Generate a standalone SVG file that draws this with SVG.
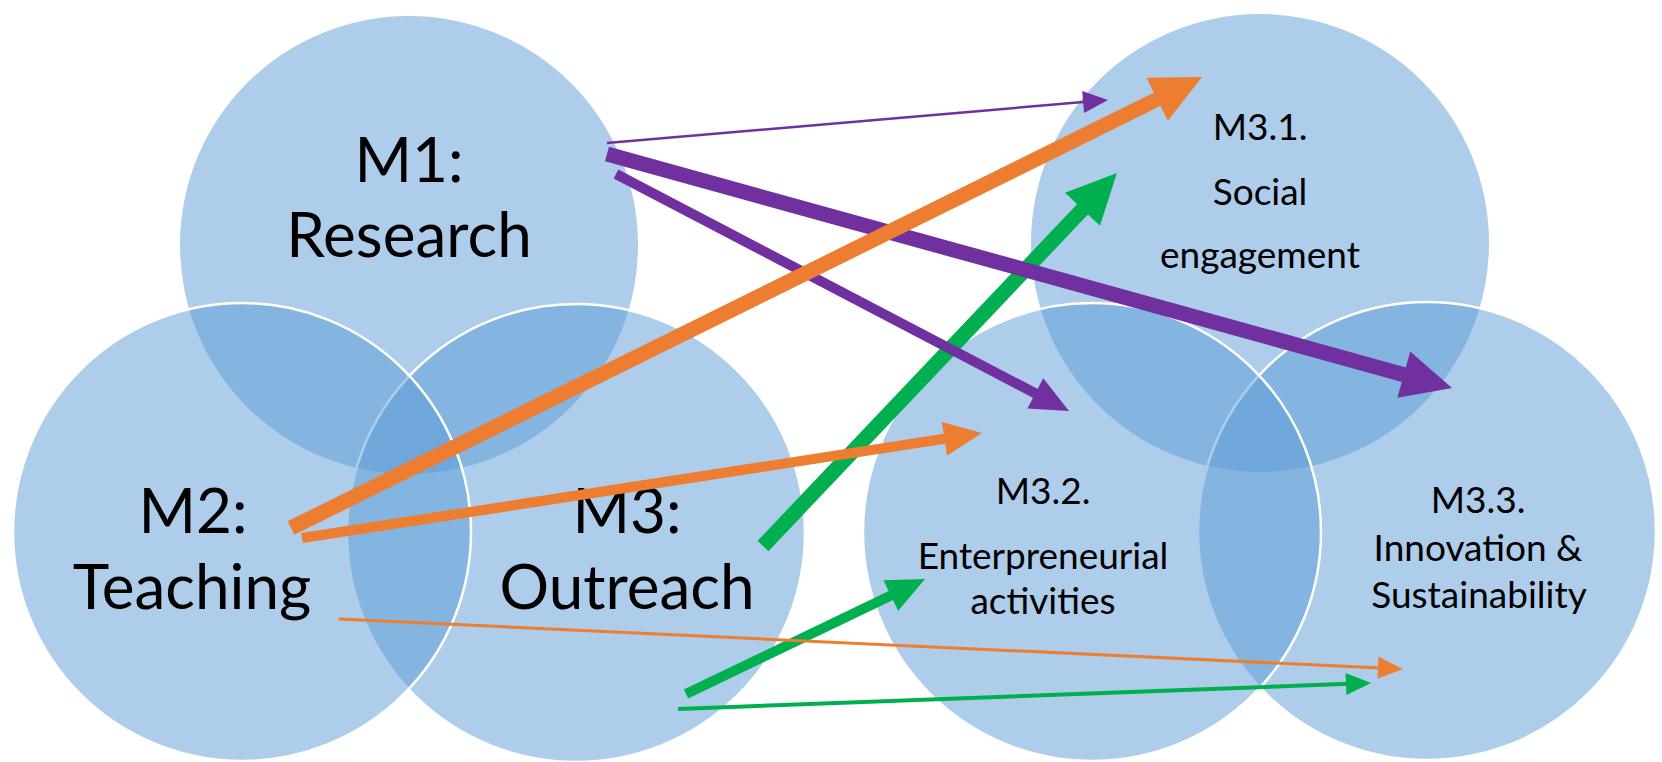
<svg xmlns="http://www.w3.org/2000/svg" width="1662" height="762" viewBox="0 0 1662 762">
<style>
.c{fill:#5B9BD5;fill-opacity:0.5;stroke:#FFFFFF;stroke-width:2.5}
.c0{fill:#5B9BD5;fill-opacity:0.5;stroke:none}
.big{font-family:Lato,"Liberation Sans",sans-serif;font-size:62px;fill:#000;text-anchor:middle}
.sm{font-family:Lato,"Liberation Sans",sans-serif;font-size:37px;fill:#000;text-anchor:middle}
.a{fill:none;stroke-linecap:butt}
.p{stroke:#7030A0}.o{stroke:#ED7D31}.g{stroke:#00B050}
</style>
<defs>
<marker id="pB" markerUnits="userSpaceOnUse" markerWidth="50" markerHeight="48" refX="3" refY="24" orient="auto" overflow="visible"><path d="M0,0 L50,24 L0,48 z" fill="#7030A0"/></marker>
<marker id="pM" markerUnits="userSpaceOnUse" markerWidth="38" markerHeight="34" refX="3" refY="17" orient="auto" overflow="visible"><path d="M0,0 L38,17 L0,34 z" fill="#7030A0"/></marker>
<marker id="pS" markerUnits="userSpaceOnUse" markerWidth="25" markerHeight="22" refX="3" refY="11" orient="auto" overflow="visible"><path d="M0,0 L25,11 L0,22 z" fill="#7030A0"/></marker>
<marker id="oB" markerUnits="userSpaceOnUse" markerWidth="50" markerHeight="48" refX="3" refY="24" orient="auto" overflow="visible"><path d="M0,0 L50,24 L0,48 z" fill="#ED7D31"/></marker>
<marker id="oM" markerUnits="userSpaceOnUse" markerWidth="38" markerHeight="34" refX="3" refY="17" orient="auto" overflow="visible"><path d="M0,0 L38,17 L0,34 z" fill="#ED7D31"/></marker>
<marker id="oS" markerUnits="userSpaceOnUse" markerWidth="25" markerHeight="22" refX="3" refY="11" orient="auto" overflow="visible"><path d="M0,0 L25,11 L0,22 z" fill="#ED7D31"/></marker>
<marker id="gB" markerUnits="userSpaceOnUse" markerWidth="50" markerHeight="48" refX="3" refY="24" orient="auto" overflow="visible"><path d="M0,0 L50,24 L0,48 z" fill="#00B050"/></marker>
<marker id="gM" markerUnits="userSpaceOnUse" markerWidth="38" markerHeight="34" refX="3" refY="17" orient="auto" overflow="visible"><path d="M0,0 L38,17 L0,34 z" fill="#00B050"/></marker>
<marker id="gS" markerUnits="userSpaceOnUse" markerWidth="25" markerHeight="22" refX="3" refY="11" orient="auto" overflow="visible"><path d="M0,0 L25,11 L0,22 z" fill="#00B050"/></marker>
</defs>
<rect width="1662" height="762" fill="#FFFFFF"/>
<g id="shapes">
<circle id="shape-m1" class="c0" cx="409" cy="245" r="229"/>
<circle id="shape-m3" class="c" cx="576" cy="533" r="229"/>
<circle id="shape-m2" class="c" cx="242" cy="532" r="229"/>
<circle id="shape-m31" class="c0" cx="1260" cy="243" r="229"/>
<circle id="shape-m33" class="c" cx="1427" cy="531" r="229"/>
<circle id="shape-m32" class="c" cx="1092" cy="532" r="229"/>
</g>
<g id="node-m1"><text class="big" x="409" y="182">M1:</text><text class="big" x="409" y="257">Research</text></g>
<g id="node-m2"><text class="big" x="193" y="533">M2:</text><text class="big" x="192" y="609">Teaching</text></g>
<g id="node-m3"><text class="big" x="627" y="533">M3:</text><text class="big" x="627" y="609">Outreach</text></g>
<g id="node-m31"><text class="sm" x="1260" y="140">M3.1.</text><text class="sm" x="1260" y="205">Social</text><text class="sm" x="1260" y="268">engagement</text></g>
<g id="node-m32"><text class="sm" x="1043" y="504">M3.2.</text><text class="sm" x="1043" y="569">Enterpreneurial</text><text class="sm" x="1043" y="614">activities</text></g>
<g id="node-m33"><text class="sm" x="1478" y="513">M3.3.</text><text class="sm" x="1478" y="561">Innovation &amp;</text><text class="sm" x="1479" y="608">Sustainability</text></g>
<g id="connectors">
<line class="a g" x1="763" y1="546" x2="1084.6" y2="207.1" stroke-width="15" marker-end="url(#gB)"/>
<line class="a g" x1="686" y1="694" x2="893.5" y2="594.2" stroke-width="10" marker-end="url(#gM)"/>
<line class="a g" x1="678" y1="709" x2="1349" y2="683.8" stroke-width="4" marker-end="url(#gS)"/>
<line class="a p" x1="607" y1="143" x2="1086.1" y2="101.8" stroke-width="2.5" marker-end="url(#pS)"/>
<line class="a p" x1="607" y1="154" x2="1406.7" y2="375.5" stroke-width="15" marker-end="url(#pB)"/>
<line class="a p" x1="616" y1="174" x2="1038" y2="394.75" stroke-width="10" marker-end="url(#pM)"/>
<line class="a o" x1="291" y1="528" x2="1159.9" y2="97.9" stroke-width="15" marker-end="url(#oB)"/>
<line class="a o" x1="302" y1="538" x2="947.4" y2="438.3" stroke-width="10" marker-end="url(#oM)"/>
<line class="a o" x1="339" y1="619" x2="1381" y2="668" stroke-width="3" marker-end="url(#oS)"/>
</g>
</svg>
